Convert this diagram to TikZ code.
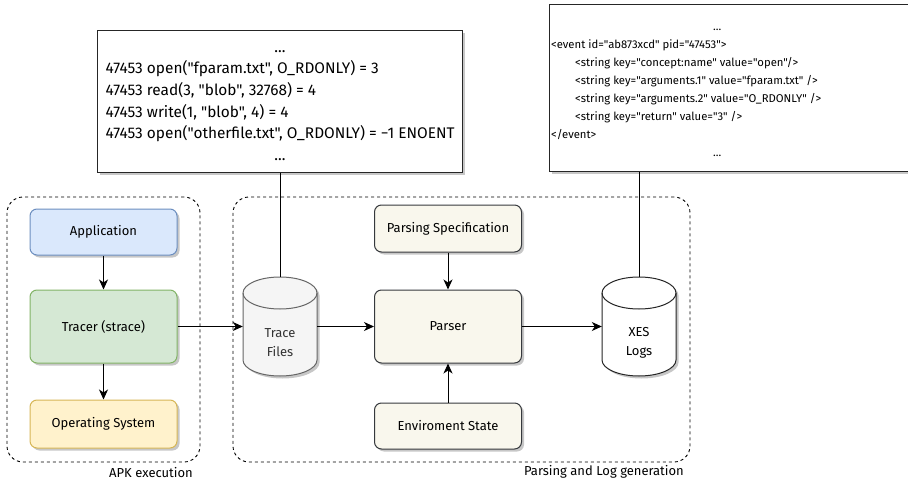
\documentclass[tikz,border=0pt]{standalone}
\usepackage{fontspec}
\setmainfont{Fira Sans}[Ligatures=TeXOff]
\usetikzlibrary{arrows.meta,shadows}

\definecolor{appfill}{HTML}{DAE8FC}
\definecolor{appdraw}{HTML}{6C8EBF}
\definecolor{trcfill}{HTML}{D5E8D4}
\definecolor{trcdraw}{HTML}{82B366}
\definecolor{osfill}{HTML}{FFF2CC}
\definecolor{osdraw}{HTML}{D6B656}
\definecolor{parfill}{HTML}{F9F7ED}
\definecolor{pardraw}{HTML}{36393D}
\definecolor{cylfill}{HTML}{F5F5F5}
\definecolor{cyldraw}{HTML}{666666}
\definecolor{cyltext}{HTML}{333333}

\begin{document}
\begin{tikzpicture}[x=1pt,y=-1pt,
        shade/.style={drop shadow={shadow xshift=2.5pt,shadow yshift=-2.5pt,fill=black,opacity=0.22}},
        box/.style={draw,rounded corners=7pt,line width=1pt,inner sep=0pt,minimum width=147pt,
            font=\fontsize{13}{15}\selectfont,shade},
        group/.style={draw=black,dash pattern=on 3pt off 3pt,rounded corners=16pt,line width=0.9pt,inner sep=0pt},
        grouplabel/.style={anchor=east,inner sep=0pt,font=\fontsize{13}{15}\selectfont},
        store/.style={inner sep=0pt,minimum width=74pt,minimum height=99pt},
        storelabel/.style={align=center,inner sep=0pt,font=\fontsize{13}{19}\selectfont},
        codebox/.style={draw=black!85,fill=white,line width=1pt,inner sep=0pt,shade},
        flow/.style={line width=1pt,-{Stealth[length=10pt,width=9pt,inset=3pt]}},
        link/.style={line width=1pt}]
                \useasboundingbox (0,0) rectangle (908,484);
                \clip (0,0) rectangle (908,484);

                \node[group,minimum width=193pt,minimum height=265pt] (apk) at (103.5,329.5) {};
                \node[group,minimum width=457pt,minimum height=265pt] (parsing) at (461.5,329.5) {};
                \node[grouplabel] (apklbl) at (193,473) {APK execution};
                \node[grouplabel] (parsinglbl) at (684,472) {Parsing and Log generation};

                \node[box,fill=appfill,draw=appdraw,minimum height=46pt] (app) at (103.5,232) {Application};
                \node[box,fill=trcfill,draw=trcdraw,minimum height=73pt] (tracer) at (103.5,326.5) {Tracer (strace)};
                \node[box,fill=osfill,draw=osdraw,minimum height=48pt] (os) at (103.5,424) {Operating System};

                \node[box,fill=parfill,draw=pardraw,minimum height=47pt] (spec) at (448,228.5) {Parsing Specification};
                \node[box,fill=parfill,draw=pardraw,minimum height=73pt] (parser) at (448,326.5) {Parser};
                \node[box,fill=parfill,draw=pardraw,minimum height=46pt] (env) at (448,426) {Enviroment State};

                \node[store] (trace) at (280,326.5) {};
                \path[draw=cyldraw,fill=cylfill,line width=1pt,shade] (243,293) -- (243,360)
                    arc[start angle=180,end angle=360,x radius=37pt,y radius=16pt] -- (317,293)
                    arc[start angle=0,end angle=180,x radius=37pt,y radius=16pt] -- cycle;
                \draw[cyldraw,line width=1pt] (243,293) arc[start angle=180,end angle=360,x radius=37pt,y radius=16pt];
                \node[storelabel,text=cyltext] (tracetxt) at (280,343) {Trace\\Files};

                \node[store] (logs) at (639,326.5) {};
                \path[draw=black!85,fill=white,line width=1pt,shade] (602,293) -- (602,360)
                    arc[start angle=180,end angle=360,x radius=37pt,y radius=16pt] -- (676,293)
                    arc[start angle=0,end angle=180,x radius=37pt,y radius=16pt] -- cycle;
                \draw[black!85,line width=1pt] (602,293) arc[start angle=180,end angle=360,x radius=37pt,y radius=16pt];
                \node[storelabel] (logstxt) at (639,343) {XES\\Logs};

                \node[codebox,minimum width=365pt,minimum height=142pt,font=\fontsize{15.4}{21.6}\selectfont] (stracebox) at (280,102) {%
                    \begin{tabular}{@{}l@{}}
                    \multicolumn{1}{@{}c@{}}{...}\\
                    47453 open("fparam.txt", O\_RDONLY) = 3\\
                    47453 read(3, "blob", 32768) = 4\\
                    47453 write(1, "blob", 4) = 4\\
                    47453 open("otherfile.txt", O\_RDONLY) = −1 ENOENT\\
                    \multicolumn{1}{@{}c@{}}{...}
                    \end{tabular}};

                \node[codebox,minimum width=381pt,minimum height=167pt] (xesbox) at (739.5,88.5) {};
                \node[anchor=west,inner sep=0pt,align=left,font=\fontsize{11.3}{18}\selectfont] (xestxt) at (551,93) {%
                    \hspace*{162pt}...\\
                    <event id="ab873xcd" pid="47453">\\
                    \hspace*{24pt}<string key="concept:name" value="open"/>\\
                    \hspace*{24pt}<string key="arguments.1" value="fparam.txt" />\\
                    \hspace*{24pt}<string key="arguments.2" value="O\_RDONLY" />\\
                    \hspace*{24pt}<string key="return" value="3" />\\
                    </event>\\
                    \hspace*{162pt}...};

                \draw[flow] (app) -- (tracer);
                \draw[flow] (tracer) -- (os);
                \draw[flow] (tracer) -- (trace);
                \draw[flow] (trace) -- (parser);
                \draw[flow] (spec) -- (parser);
                \draw[flow] (env) -- (parser);
                \draw[flow] (parser) -- (logs);
                \draw[link] (stracebox) -- (trace);
                \draw[link] (xesbox.south -| logs.north) -- (logs.north);
            \end{tikzpicture}
\end{document}
